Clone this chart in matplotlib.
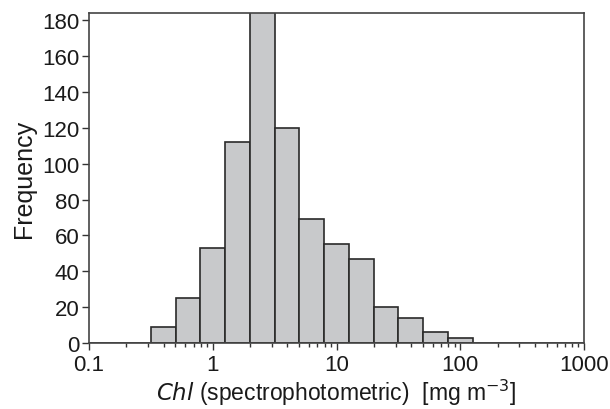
import numpy as np
import matplotlib
matplotlib.use("Agg")
import matplotlib.pyplot as plt
from matplotlib.ticker import LogLocator, FixedLocator, FixedFormatter, NullFormatter

plt.rcParams['font.family'] = ['Liberation Sans', 'DejaVu Sans']

# bin edges as log10 exponents (0.2 decade bins), counts
edge_exp = [-0.5, -0.3, -0.1, 0.1, 0.3, 0.5, 0.7, 0.9, 1.1, 1.3, 1.5, 1.7, 1.9, 2.1]
counts = [9, 25, 53, 112, 195, 120, 69, 55, 47, 20, 14, 6, 3]
xticks = [0.1, 1, 10, 100, 1000]
xticklabels = ["0.1", "1", "10", "100", "1000"]
yticks = [0, 20, 40, 60, 80, 100, 120, 140, 160, 180]

edges = 10 ** np.array(edge_exp)

fig = plt.figure(figsize=(6.1, 4.1), dpi=100)
ax = fig.add_axes([89 / 610, 1 - 344 / 410, (584 - 89) / 610, (344 - 14) / 410])

ax.bar(edges[:-1], counts, width=np.diff(edges), align='edge',
       color='#c8c9cb', edgecolor='#2a2a2a', linewidth=1.2)
# baseline across the whole range
ax.plot([0.1, 1000], [0, 0], color='#2a2a2a', lw=1.2)

ax.set_xscale('log')
ax.set_xlim(0.1, 1000)
ax.set_ylim(0, 184)

ax.xaxis.set_major_locator(FixedLocator(xticks))
ax.xaxis.set_major_formatter(FixedFormatter(xticklabels))
ax.xaxis.set_minor_locator(LogLocator(base=10, subs=np.arange(2, 10)))
ax.xaxis.set_minor_formatter(NullFormatter())
ax.set_yticks(yticks)

ax.tick_params(axis='both', which='major', direction='out', length=5,
               width=1, color='#333333', labelsize=16, labelcolor='#1a1a1a', pad=2)
ax.tick_params(axis='x', which='minor', direction='out', length=3,
               width=1, color='#333333')
ax.tick_params(axis='x', which='major', pad=3)

for s in ax.spines.values():
    s.set_color('#444444')
    s.set_linewidth(1.2)

ax.set_ylabel("Frequency", fontsize=18, color='#1a1a1a', labelpad=4)
ax.set_xlabel(r"$\it{Chl}$ (spectrophotometric)  [mg m$^{-3}$]", fontsize=16.5,
              color='#1a1a1a', labelpad=1)

fig.savefig("out.png", dpi=100)
